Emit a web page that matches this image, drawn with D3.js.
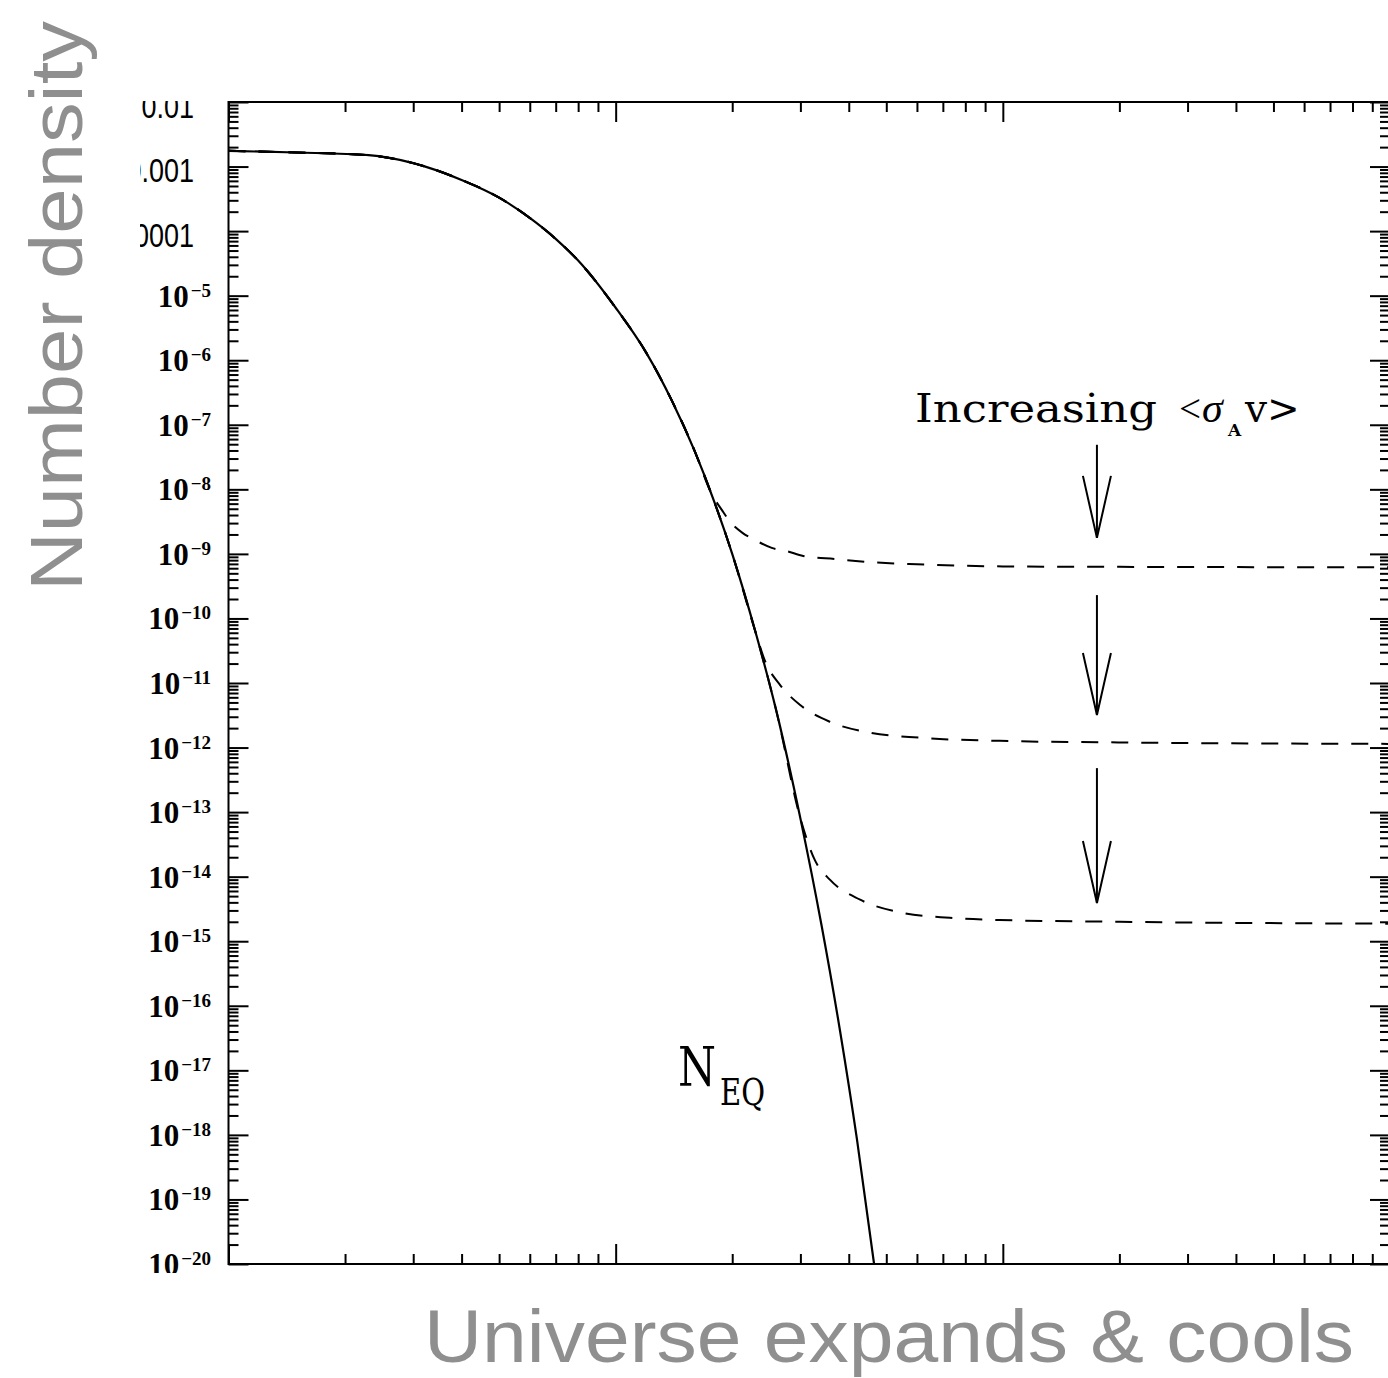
<!DOCTYPE html>
<html>
<head>
<meta charset="utf-8">
<script src="https://cdn.jsdelivr.net/npm/d3@7"></script>
<style>
  body { margin: 0; background: #fff; }
  svg { display: block; }
</style>
</head>
<body>
<div class="canva"></div>
<script>
// N_EQ equilibrium curve (x = m/T, y = number density)
const eqX = [1, 1.5, 2.3, 3, 4, 5, 6, 7, 8, 10, 12, 14, 16, 18, 20, 23, 26, 30, 34, 38, 42, 46.5];
const eqY = [1.75e-3, 1.65e-3, 1.5e-3, 1.13e-3, 6.2e-4, 3.3e-4, 1.6e-4, 7.6e-5, 3.5e-5, 6.5e-6, 1.3e-6,
             2.3e-7, 3.9e-8, 6.3e-9, 1e-9, 6e-11, 3.7e-12, 8e-14, 1.8e-15, 4e-17, 8.5e-19, 1e-20];

// freeze-out tails (dashed), each leaves the equilibrium curve after x = branch
const branch = [16, 23, 30];
const tail1X = [17.7, 18.8, 19.7, 21.3, 22.9, 25.3, 27.7, 30.5, 36.9, 44.8, 60, 100, 200, 1000];
const tail1Y = [8.5e-9, 4.8e-9, 3.2e-9, 2.1e-9, 1.64e-9, 1.24e-9, 1.1e-9, 9.3e-10, 8.3e-10, 7.5e-10,
                6.9e-10, 6.4e-10, 6.3e-10, 6.2e-10];
const tail2X = [24.3, 26.6, 29.9, 35.8, 45.4, 61, 98, 200, 1000];
const tail2Y = [2.2e-11, 9.3e-12, 4.6e-12, 2.5e-12, 1.7e-12, 1.42e-12, 1.27e-12, 1.2e-12, 1.14e-12];
const tail3X = [32.7, 35.8, 42.8, 54.2, 73, 98, 200, 1000];
const tail3Y = [1.8e-14, 8.9e-15, 4.4e-15, 2.8e-15, 2.3e-15, 2.13e-15, 2e-15, 1.87e-15];

// arrows "Increasing <sigma_A v>"
const arrowX = 175;
const arrowTop = [4.9e-8, 2.3e-10, 4.8e-13];
const arrowTip = [1.77e-9, 3.2e-12, 3.9e-15];

// tick labels
const yPowTicks = [1e-5, 1e-6, 1e-7, 1e-8, 1e-9, 1e-10, 1e-11, 1e-12, 1e-13, 1e-14, 1e-15, 1e-16, 1e-17, 1e-18, 1e-19, 1e-20];
const yPowLabels = ['5', '6', '7', '8', '9', '10', '11', '12', '13', '14', '15', '16', '17', '18', '19', '20'];
const yDecTicks = [1e-2, 1e-3, 1e-4];
const yDecLabels = ['0.01', '0.001', '0.0001'];
const xMajor = [1, 10, 100, 1000];

const svg = d3.select('.canva').append('svg')
  .attr('width', 1388)
  .attr('height', 1378);

svg.append('rect').attr('width', 1388).attr('height', 1378).attr('fill', '#fff');

// the figure is a cropped picture: labels cut at the left/top/bottom
svg.append('clipPath').attr('id', 'crop')
  .append('rect').attr('x', 140).attr('y', 101).attr('width', 1260).attr('height', 1172);

const fig = svg.append('g').attr('clip-path', 'url(#crop)');

const x = d3.scaleLog().domain([1, 1000]).range([228.5, 1390]);
const y = d3.scaleLog().domain([1e-20, 1e-2]).range([1264, 102]);

// minor tick positions 2..9 per decade
const xMinor = [];
[1, 10, 100].forEach(d => { for (let k = 2; k <= 9; k++) xMinor.push(k * d); });
const yMinor = [];
for (let e = -20; e < -2; e++) { for (let k = 2; k <= 9; k++) yMinor.push(k * Math.pow(10, e)); }
const yMajor = yDecTicks.concat(yPowTicks);

function tickSet(axisFn, scale, values, size, tr) {
  fig.append('g')
    .attr('transform', tr)
    .call(axisFn(scale).tickValues(values).tickSize(size).tickSizeOuter(0).tickFormat(''))
    .call(g => g.select('.domain').remove())
    .selectAll('line')
    .attr('stroke', '#000')
    .attr('stroke-width', 2);
}

tickSet(d3.axisLeft, y, yMajor, -20, 'translate(228.5,0)');
tickSet(d3.axisLeft, y, yMinor, -10, 'translate(228.5,0)');
tickSet(d3.axisRight, y, yMajor, -20, 'translate(1390,0)');
tickSet(d3.axisRight, y, yMinor, -10, 'translate(1390,0)');
tickSet(d3.axisBottom, x, xMajor, -20, 'translate(0,1264)');
tickSet(d3.axisBottom, x, xMinor, -10, 'translate(0,1264)');
tickSet(d3.axisTop, x, xMajor, -20, 'translate(0,102)');
tickSet(d3.axisTop, x, xMinor, -10, 'translate(0,102)');

// frame
fig.append('rect')
  .attr('x', x(1)).attr('y', y(1e-2))
  .attr('width', x(1000) - x(1)).attr('height', y(1e-20) - y(1e-2))
  .attr('fill', 'none').attr('stroke', '#000').attr('stroke-width', 2);

// y labels 10^-n
fig.selectAll('text.pow')
  .data(yPowTicks)
  .join('text')
  .attr('class', 'pow')
  .attr('x', 211)
  .attr('y', d => y(d) + 11)
  .attr('text-anchor', 'end')
  .attr('font-family', '"Liberation Serif", serif')
  .attr('font-weight', 'bold')
  .attr('font-size', 31)
  .attr('fill', '#000')
  .each(function(d, i) {
    const t = d3.select(this);
    t.append('tspan').text('10');
    t.append('tspan').attr('dx', 2).attr('dy', -10).attr('font-size', 19).text('\u2212' + yPowLabels[i]);
  });

// y labels 0.01 .. 0.0001 (sans, taller than wide)
fig.selectAll('text.dec')
  .data(yDecTicks)
  .join('text')
  .attr('class', 'dec')
  .attr('transform', d => `translate(194,${y(d) + 15.6}) scale(1,1.2)`)
  .attr('text-anchor', 'end')
  .attr('font-family', '"Liberation Sans", Arial, sans-serif')
  .attr('font-size', 27)
  .attr('fill', '#000')
  .text((d, i) => yDecLabels[i]);

// curves
const line = d3.line()
  .x(d => x(d[0]))
  .y(d => y(d[1]))
  .curve(d3.curveMonotoneX);

const eq = eqX.map((v, i) => [v, eqY[i]]);
const tails = [[tail1X, tail1Y], [tail2X, tail2Y], [tail3X, tail3Y]];

tails.forEach((tl, j) => {
  const pts = eq.filter(p => p[0] <= branch[j]).concat(tl[0].map((v, i) => [v, tl[1][i]]));
  fig.append('path')
    .attr('d', line(pts))
    .attr('fill', 'none')
    .attr('stroke', '#000')
    .attr('stroke-width', 2)
    .attr('stroke-dasharray', '17,13');
});

fig.append('path')
  .attr('d', line(eq))
  .attr('fill', 'none')
  .attr('stroke', '#000')
  .attr('stroke-width', 2.2);

// arrows
arrowTop.forEach((top, i) => {
  const ax = x(arrowX);
  const tip = y(arrowTip[i]);
  const g = fig.append('g').attr('stroke', '#000').attr('stroke-width', 2).attr('fill', 'none');
  g.append('line').attr('x1', ax).attr('x2', ax).attr('y1', y(top)).attr('y2', tip);
  g.append('path').attr('d', `M${ax - 14},${tip - 62}L${ax},${tip}L${ax + 14},${tip - 62}`);
});

// annotation texts
const dejavu = '"DejaVu Serif", serif';
const libSerif = '"Liberation Serif", serif';
function note(str, px, py, family, size, opts = {}) {
  const t = fig.append('text').attr('x', px).attr('y', py)
    .attr('font-family', family).attr('font-size', size)
    .text(str);
  if (opts.len) t.attr('textLength', opts.len).attr('lengthAdjust', 'spacingAndGlyphs');
  if (opts.italic) t.attr('font-style', 'italic');
  if (opts.bold) t.attr('font-weight', 'bold');
  return t;
}
note('Increasing', 915, 422, dejavu, 39, { len: 242 });
note('<', 1179, 422, libSerif, 39);
note('\u03c3', 1202, 422, libSerif, 42, { italic: true });
note('A', 1228, 436, dejavu, 17, { bold: true });
note('v>', 1245, 422, dejavu, 39);

note('N', 678, 1086, dejavu, 54, { len: 38 });
note('EQ', 720, 1105, dejavu, 37, { len: 45 });

// gray slide titles
svg.append('text')
  .attr('transform', 'translate(82,591) rotate(-90)')
  .attr('font-family', '"Liberation Sans", Arial, sans-serif')
  .attr('font-size', 74)
  .attr('fill', '#8f8f8f')
  .attr('textLength', 570).attr('lengthAdjust', 'spacingAndGlyphs')
  .text('Number density');

svg.append('text')
  .attr('x', 424).attr('y', 1362)
  .attr('font-family', '"Liberation Sans", Arial, sans-serif')
  .attr('font-size', 74)
  .attr('fill', '#8f8f8f')
  .attr('textLength', 930).attr('lengthAdjust', 'spacingAndGlyphs')
  .text('Universe expands & cools');
</script>
</body>
</html>
